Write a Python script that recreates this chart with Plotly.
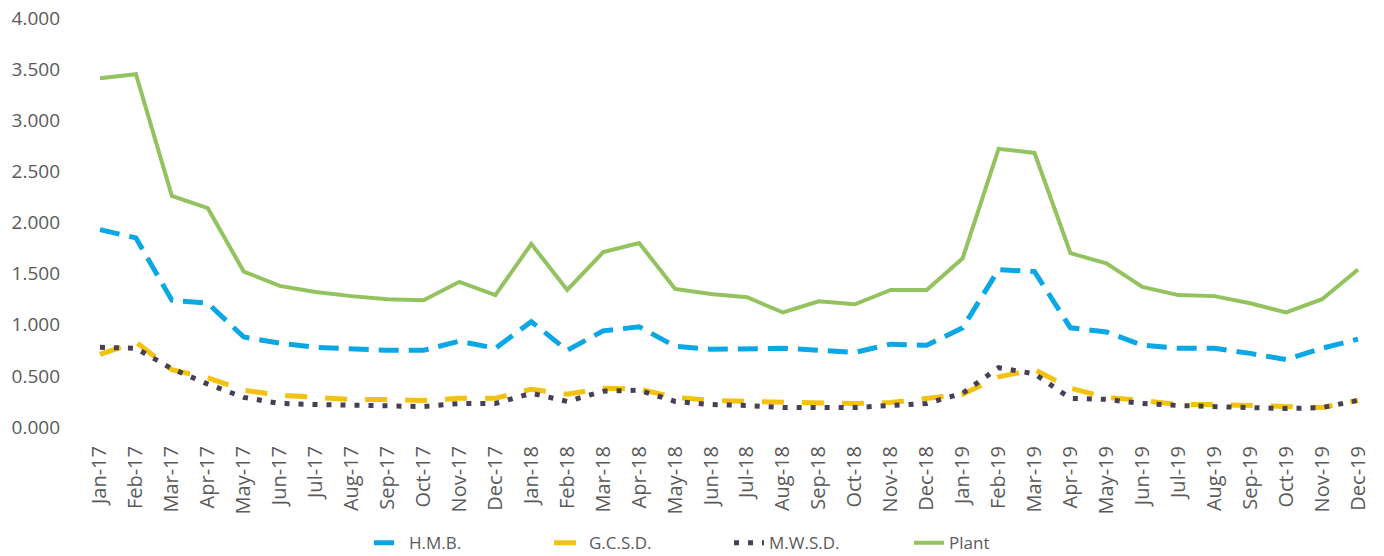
import plotly.graph_objects as go

months = ["Jan-17","Feb-17","Mar-17","Apr-17","May-17","Jun-17","Jul-17","Aug-17","Sep-17","Oct-17","Nov-17","Dec-17",
          "Jan-18","Feb-18","Mar-18","Apr-18","May-18","Jun-18","Jul-18","Aug-18","Sep-18","Oct-18","Nov-18","Dec-18",
          "Jan-19","Feb-19","Mar-19","Apr-19","May-19","Jun-19","Jul-19","Aug-19","Sep-19","Oct-19","Nov-19","Dec-19"]

hmb = [1.93,1.85,1.24,1.21,0.88,0.82,0.78,0.76,0.75,0.75,0.84,0.77,
       1.03,0.75,0.94,0.98,0.79,0.76,0.76,0.77,0.75,0.73,0.81,0.80,
       0.97,1.54,1.52,0.97,0.93,0.80,0.77,0.77,0.72,0.66,0.77,0.86]

gcsd = [0.71,0.83,0.56,0.48,0.36,0.31,0.29,0.27,0.27,0.26,0.28,0.28,
        0.37,0.32,0.38,0.37,0.29,0.26,0.25,0.24,0.24,0.23,0.24,0.28,
        0.32,0.49,0.56,0.38,0.29,0.26,0.22,0.22,0.21,0.19,0.19,0.26]

mwsd = [0.78,0.77,0.57,0.42,0.29,0.23,0.22,0.21,0.21,0.20,0.23,0.23,
        0.33,0.25,0.35,0.36,0.25,0.22,0.21,0.19,0.19,0.19,0.21,0.23,
        0.33,0.58,0.52,0.28,0.27,0.23,0.21,0.20,0.19,0.18,0.19,0.26]

plant = [3.41,3.45,2.26,2.14,1.52,1.38,1.32,1.28,1.25,1.24,1.42,1.29,
         1.79,1.34,1.71,1.80,1.35,1.30,1.27,1.12,1.23,1.20,1.34,1.34,
         1.65,2.72,2.68,1.70,1.60,1.37,1.29,1.28,1.21,1.12,1.25,1.54]

y_ticks = [0, 0.5, 1, 1.5, 2, 2.5, 3, 3.5, 4]

fig = go.Figure()
fig.add_trace(go.Scatter(x=months, y=hmb, name="H.M.B.", mode="lines",
                         line=dict(color="#0aa7e6", width=5, dash="20px,10px")))
fig.add_trace(go.Scatter(x=months, y=gcsd, name="G.C.S.D.", mode="lines",
                         line=dict(color="#f3c20f", width=5, dash="22px,18px")))
fig.add_trace(go.Scatter(x=months, y=mwsd, name="M.W.S.D.", mode="lines",
                         line=dict(color="#483f55", width=5, dash="5px,9px")))
fig.add_trace(go.Scatter(x=months, y=plant, name="Plant", mode="lines",
                         line=dict(color="#92c35e", width=4)))

font_color = "#5a5a5a"
fig.update_layout(
    width=1384, height=556,
    margin=dict(l=82, r=8, t=18, b=129, autoexpand=False),
    paper_bgcolor="white", plot_bgcolor="white",
    font=dict(family="Open Sans", color=font_color),
    showlegend=True,
    legend=dict(orientation="h", x=0.5, xanchor="center", y=-0.284, yanchor="middle",
                font=dict(size=17, color=font_color), traceorder="normal",
                entrywidth=135, entrywidthmode="pixels"),
    xaxis=dict(type="category", range=[-0.5, len(months) - 0.5], tickangle=-90,
               showgrid=False, showline=False, zeroline=False, ticks="",
               automargin=False, ticklabelstandoff=14,
               tickfont=dict(size=20, color=font_color)),
    yaxis=dict(range=[0, 4], tickvals=y_ticks, tickformat=".3f", showgrid=False,
               showline=False, zeroline=False, ticks="", automargin=False,
               ticklabelstandoff=21, ticklabeloverflow="allow",
               tickfont=dict(size=19, color=font_color)),
)

fig.write_html("out.html", config={"displayModeBar": False},
               post_script="document.body.style.margin='0px';document.body.style.overflow='hidden';")
